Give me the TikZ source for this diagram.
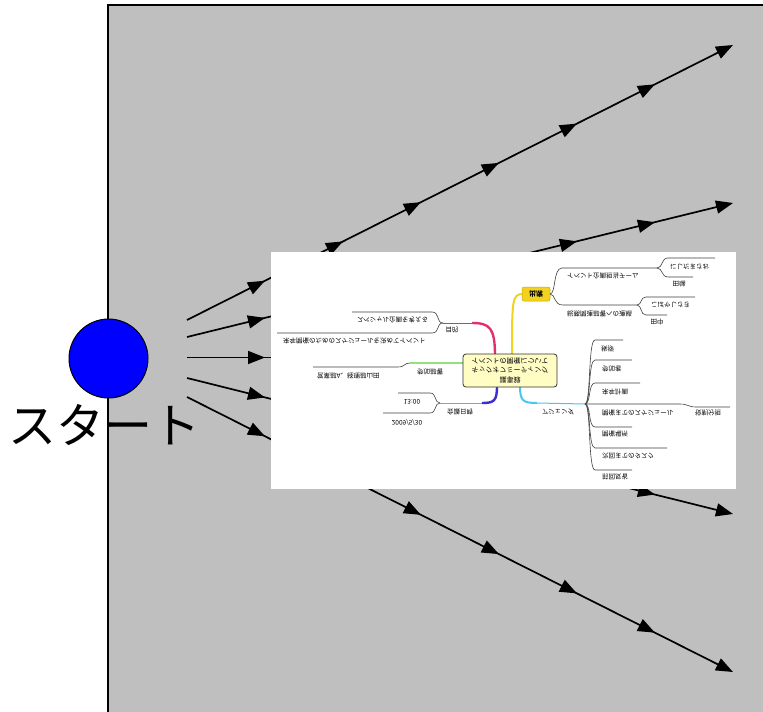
\documentclass[tikz,border=0pt]{standalone}
\usepackage{fontspec}
\newfontfamily\jp{Noto Sans CJK JP}
\usetikzlibrary{arrows.meta,decorations.markings}
\definecolor{panel}{HTML}{BFBFBF}
\definecolor{startblue}{HTML}{0000FF}
\definecolor{mmred}{HTML}{E0306E}
\definecolor{mmgreen}{HTML}{96E07A}
\definecolor{mmblue}{HTML}{3A30D0}
\definecolor{mmlav}{HTML}{9A96D8}
\definecolor{mmyellow}{HTML}{F2D21E}
\definecolor{mmcyan}{HTML}{48C8E8}
\definecolor{mmbox}{HTML}{FFFCC4}
\definecolor{mmline}{HTML}{404040}
\begin{document}
\begin{tikzpicture}[x=1pt,y=-1pt,
  >={Triangle[length=17pt,width=13pt]},
  flow/.style={line width=1.7pt,->,postaction={decorate},
    decoration={markings,
      mark=at position 0.142857 with {\arrow{>}},
      mark=at position 0.285714 with {\arrow{>}},
      mark=at position 0.428571 with {\arrow{>}},
      mark=at position 0.571429 with {\arrow{>}},
      mark=at position 0.714286 with {\arrow{>}},
      mark=at position 0.857143 with {\arrow{>}}}},
  fl/.style={yscale=-1,font=\jp\fontsize{6.5}{7.5}\selectfont,inner sep=0pt,text=black},
  twig/.style={draw=mmline,line width=0.6pt},
]
\useasboundingbox (0,0) rectangle (763,712);
% panel
\draw[line width=2pt,fill=panel] (108,5) rectangle (820,760);
% start node
\node[circle,draw=black,line width=1pt,fill=startblue,minimum size=79pt,inner sep=0pt] (start) at (108.5,358.5) {};
% flow lines
\coordinate (s1) at (187,320); \coordinate (e1) at (733,45);
\coordinate (s2) at (187,337); \coordinate (e2) at (733,203);
\coordinate (s3) at (187,357.5); \coordinate (e3) at (733,357.5);
\coordinate (s4) at (187,378); \coordinate (e4) at (733,514);
\coordinate (s5) at (187,397); \coordinate (e5) at (733,672);
\foreach \i in {1,...,5} {\draw[flow] (s\i) -- (e\i);}
% embedded (vertically flipped) mind map
\fill[white] (271,252) rectangle (736,489);
% red branch
\draw[mmred,line width=2.4pt] (495,356) .. controls (495,328) and (490,323) .. (472,323);
\draw[mmred,line width=1pt] (472,323) -- (443,323);
\draw[twig] (443,323) .. controls (436,323) and (440,312) .. (432,312) -- (352,312);
\draw[twig] (443,323) .. controls (436,323) and (440,333) .. (432,333) -- (277,333);
\node[fl] (goal) at (452,330) {目的};
\node[fl,anchor=west] (g1) at (357,320) {スペシャル企画を考える};
\node[fl,anchor=west] (g2) at (283,340.5) {来年開催のためのスケジュールを決めてイベント};
% green branch
\draw[mmgreen,line width=1.6pt] (464,363) -- (410,363);
\draw[twig] (410,363) .. controls (404,363) and (405,367) .. (398,367) -- (313,367);
\node[fl] (att) at (430,372) {参加部署};
\node[fl,anchor=west] (att1) at (317,376) {営業部A、経理部山田};
% blue branch
\draw[mmblue,line width=2.4pt] (497,386) .. controls (497,401) and (494,403) .. (482,403);
\draw[mmlav,line width=1pt] (482,403) -- (440,403);
\draw[twig] (440,403) .. controls (434,403) and (437,393) .. (430,393) -- (398,393);
\draw[twig] (440,403) .. controls (434,403) and (437,413) .. (430,413) -- (383,413);
\node[fl] (date) at (460,412) {会議日時};
\node[fl] (time) at (412,401.5) {13:00};
\node[fl] (day) at (407,422) {2009/5/30};
% yellow branch
\draw[mmyellow,line width=2pt] (512,356) .. controls (512,300) and (512,294) .. (523,294);
\node[yscale=-1,draw=mmyellow!80!black,line width=0.5pt,fill=mmyellow,rounded corners=2pt,minimum width=28pt,minimum height=14pt,inner sep=0pt,font=\jp\bfseries\fontsize{7}{8}\selectfont] (pres) at (536,294) {出席};
\draw[twig] (550,294) .. controls (556,294) and (553,268) .. (562,268) -- (657,268);
\draw[twig] (550,294) .. controls (556,294) and (553,305) .. (563,305) -- (637,305);
\draw[twig] (657,268) .. controls (663,268) and (661,258) .. (668,258) -- (715,258);
\draw[twig] (657,268) .. controls (663,268) and (661,277) .. (668,277) -- (693,277);
\draw[twig] (637,305) .. controls (642,305) and (640,297) .. (646,297) -- (695,297);
\draw[twig] (637,305) .. controls (642,305) and (640,315) .. (646,315) -- (667,315);
\node[fl,anchor=west] (p1) at (567,276) {イベント企画担当チーム};
\node[fl,anchor=west] (p11) at (670,266.5) {にしだまさお};
\node[fl] (p12) at (679,284) {田端};
\node[fl,anchor=west] (p2) at (567,314) {総務関連部署への連絡};
\node[fl,anchor=west] (p21) at (651,305) {こばやしさき};
\node[fl] (p22) at (657,322) {田中};
% cyan branch
\draw[mmcyan,line width=2pt] (520,386) .. controls (520,401) and (523,403) .. (537,403);
\draw[mmcyan,line width=1pt] (537,403) -- (585,404);
\node[fl] (agenda) at (558,412) {アジェンダ};
\foreach \y/\x in {340/623,360/632,383/640,427/632,448/667,470/632}
  {\draw[twig] (585,404) .. controls (591,404) and (588,\y) .. (595,\y) -- (\x,\y);}
\draw[twig] (585,404) -- (680,404) .. controls (688,404) and (688,407) .. (696,407) -- (730,407);
\node[fl,anchor=west] (a1) at (601,348.5) {挨拶};
\node[fl,anchor=west] (a2) at (602,369) {参加者};
\node[fl,anchor=west] (a3) at (602,391.5) {来年計画};
\node[fl,anchor=west] (a4) at (602,413) {開催までのスケジュール};
\node[fl,anchor=west] (a5) at (695,413) {役割分担};
\node[fl,anchor=west] (a6) at (602,434) {開催場所};
\node[fl,anchor=west] (a7) at (602,455.5) {次回までのタスク};
\node[fl,anchor=west] (a8) at (602,477) {前回反省};
% center box
\node[yscale=-1,draw=black!80,line width=0.8pt,fill=mmbox,rounded corners=3pt,minimum width=94pt,minimum height=33pt,inner sep=1pt,align=center,font=\jp\fontsize{7}{9.4}\selectfont] (ctr) at (510,370.5) {議事録\\キックオフミーティング\\イベントの開催について};
% label
\node[font=\jp\fontsize{48}{50}\selectfont,inner sep=0pt] (lbl) at (105,425) {スタート};
\end{tikzpicture}
\end{document}
